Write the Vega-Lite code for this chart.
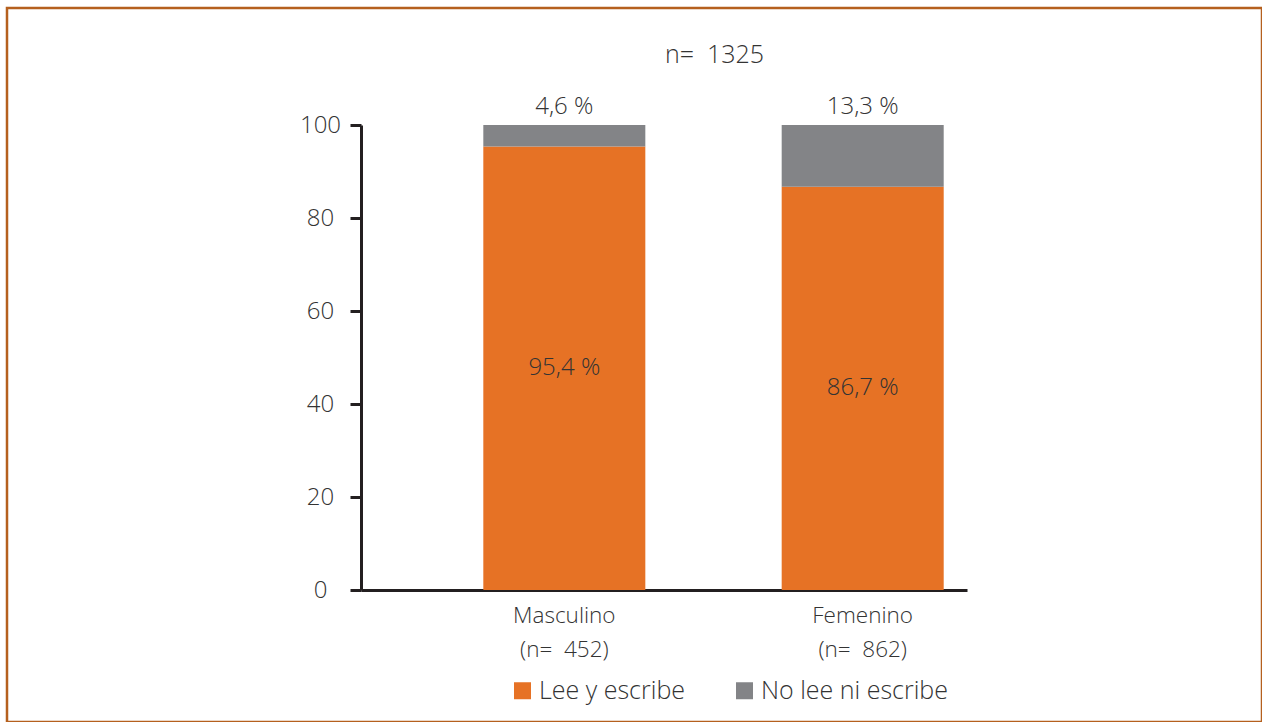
{
  "$schema": "https://vega.github.io/schema/vega-lite/v6.json",
  "autosize": {"type": "none"},
  "padding": {"left": 7, "top": 8, "right": 0, "bottom": 0},
  "width": 1255,
  "height": 714,
  "background": "white",
  "config": {
    "view": {"stroke": "#b5601e", "strokeWidth": 2.5},
    "font": "Open Sans"
  },
  "title": {
    "text": "n=\u00a0 1325",
    "font": "Open Sans",
    "fontSize": 25,
    "fontWeight": 300,
    "color": "#333333",
    "anchor": "middle",
    "frame": "group",
    "baseline": "middle",
    "dx": 80,
    "offset": -72
  },
  "data": {
    "values": [
      {"sexo": "Masculino", "categoria": "Lee y escribe", "orden": 1, "valor": 95.4, "etiqueta": "95,4 %"},
      {"sexo": "Masculino", "categoria": "No lee ni escribe", "orden": 2, "valor": 4.6, "etiqueta": "4,6 %"},
      {"sexo": "Femenino", "categoria": "Lee y escribe", "orden": 1, "valor": 86.7, "etiqueta": "86,7 %"},
      {"sexo": "Femenino", "categoria": "No lee ni escribe", "orden": 2, "valor": 13.3, "etiqueta": "13,3 %"}
    ]
  },
  "encoding": {
    "x": {
      "field": "sexo",
      "type": "nominal",
      "sort": ["Masculino", "Femenino"],
      "scale": {"range": [354, 960], "paddingInner": 0.457, "paddingOuter": 0.244, "align": 0.84, "round": false},
      "axis": {
        "title": null,
        "orient": "bottom",
        "offset": -132,
        "domainColor": "#231f20",
        "domainWidth": 3,
        "ticks": false,
        "labelAngle": 0,
        "labelFont": "Open Sans",
        "labelFontSize": 22.5,
        "labelFontWeight": 300,
        "labelColor": "#333333",
        "labelPadding": 14,
        "labelBaseline": "top",
        "labelLineHeight": 34,
        "labelExpr": "datum.value == 'Masculino' ? ['Masculino', '(n=\u00a0 452)'] : ['Femenino', '(n=\u00a0 862)']"
      }
    }
  },
  "layer": [
    {
      "mark": {"type": "bar"},
      "encoding": {
        "y": {
          "field": "valor",
          "type": "quantitative",
          "stack": "zero",
          "scale": {"domain": [0, 100], "range": [582, 117], "nice": false},
          "axis": {
            "title": null,
            "orient": "left",
            "offset": -354,
            "values": [0, 20, 40, 60, 80, 100],
            "grid": false,
            "domainColor": "#231f20",
            "domainWidth": 3,
            "tickColor": "#231f20",
            "tickWidth": 3,
            "tickSize": 11,
            "labelFont": "Open Sans",
            "labelFontSize": 24,
            "labelFontWeight": 300,
            "labelColor": "#333333",
            "labelAlign": "center",
            "labelBaseline": "middle",
            "labelPadding": 30
          }
        },
        "order": {"field": "orden", "type": "quantitative"},
        "color": {
          "field": "categoria",
          "type": "nominal",
          "scale": {"domain": ["Lee y escribe", "No lee ni escribe"], "range": ["#e67225", "#838487"]},
          "legend": {
            "orient": "none",
            "legendX": 503,
            "legendY": 670,
            "direction": "horizontal",
            "title": null,
            "symbolType": "square",
            "symbolSize": 289,
            "symbolStrokeWidth": 0,
            "symbolOpacity": 1,
            "labelFont": "Open Sans",
            "labelFontSize": 25,
            "labelFontWeight": 300,
            "labelColor": "#333333",
            "labelOffset": 4,
            "columnPadding": 47,
            "labelLimit": 400
          }
        }
      }
    },
    {
      "transform": [
        {"stack": "valor", "groupby": ["sexo"], "sort": [{"field": "orden"}], "as": ["y0", "y1"]},
        {"fold": ["y0", "y1"], "as": ["k", "pos"]},
        {"filter": "datum.categoria == 'Lee y escribe'"}
      ],
      "mark": {"type": "text", "font": "Open Sans", "fontSize": 24, "fontWeight": 300, "color": "#333333", "baseline": "middle"},
      "encoding": {
        "y": {"field": "pos", "aggregate": "mean", "type": "quantitative"},
        "text": {"field": "etiqueta", "type": "nominal"}
      }
    },
    {
      "transform": [
        {"stack": "valor", "groupby": ["sexo"], "sort": [{"field": "orden"}], "as": ["y0", "y1"]},
        {"fold": ["y0", "y1"], "as": ["k", "pos"]},
        {"filter": "datum.categoria == 'No lee ni escribe'"}
      ],
      "mark": {"type": "text", "font": "Open Sans", "fontSize": 24, "fontWeight": 300, "color": "#333333", "baseline": "middle", "dy": -18},
      "encoding": {
        "y": {"field": "pos", "aggregate": "max", "type": "quantitative"},
        "text": {"field": "etiqueta", "type": "nominal"}
      }
    }
  ]
}
